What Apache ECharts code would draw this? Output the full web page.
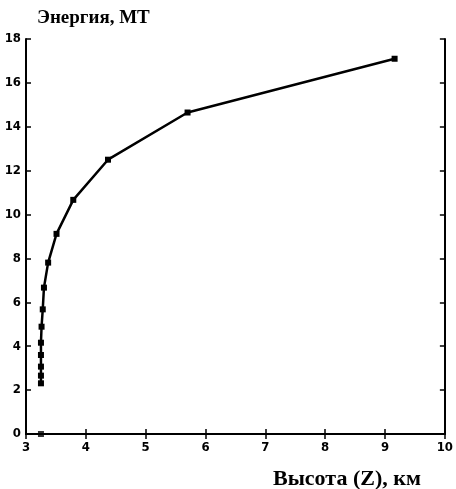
<!DOCTYPE html>
<html>
<head>
<meta charset="utf-8">
<script src="https://cdn.jsdelivr.net/npm/echarts@6/dist/echarts.min.js"></script>
<style>
  html, body { margin: 0; padding: 0; background: #fff; }
  #chart { width: 456px; height: 489px; }
</style>
</head>
<body>
<div id="chart"></div>
<script>
// высота (км) и энергия (МТ)
const heightKm = [9.16, 5.70, 4.37, 3.79, 3.51, 3.37, 3.30, 3.28, 3.26, 3.25, 3.25, 3.25, 3.25, 3.25]
const energyMt = [17.1, 14.65, 12.5, 10.67, 9.12, 7.81, 6.67, 5.68, 4.89, 4.16, 3.6, 3.07, 2.66, 2.31]
// отдельная точка на нуле
const zeroPoint = [[3.25, 0]]

const xTicks = [3, 4, 5, 6, 7, 8, 9, 10]
const yTicks = [0, 2, 4, 6, 8, 10, 12, 14, 16, 18]

const lineData = heightKm.map((h, i) => [h, energyMt[i]])

const chart = echarts.init(document.getElementById('chart'))

const tickFont = {
  color: '#000',
  fontFamily: 'DejaVu Sans Condensed',
  fontWeight: 'bold',
  fontSize: 13
}

chart.setOption({
  animation: false,
  backgroundColor: '#fff',
  title: [
    {
      text: 'Энергия, МТ',
      left: 32,
      top: 4,
      textStyle: { fontFamily: 'Liberation Serif', fontWeight: 'bold', fontSize: 19, color: '#000' }
    },
    {
      text: 'Высота (Z), км',
      left: 268,
      top: 463,
      textStyle: { fontFamily: 'Liberation Serif', fontWeight: 'bold', fontSize: 22, color: '#000' }
    }
  ],
  grid: {
    left: 26,
    right: 9,
    top: 39,
    bottom: 55
  },
  xAxis: [
    {
      type: 'value',
      min: 3,
      max: 10,
      interval: 1,
      axisLine: { lineStyle: { color: '#000', width: 2 } },
      axisTick: { inside: true, length: 5, lineStyle: { color: '#000', width: 1.5 } },
      axisLabel: Object.assign({ margin: 7 }, tickFont),
      splitLine: { show: false }
    },
    {
      type: 'value',
      position: 'top',
      min: 3,
      max: 10,
      interval: 1,
      axisLine: { lineStyle: { color: '#000', width: 2 } },
      axisTick: { inside: true, length: 5, lineStyle: { color: '#000', width: 1.5 } },
      axisLabel: { show: false },
      splitLine: { show: false }
    }
  ],
  yAxis: [
    {
      type: 'value',
      min: 0,
      max: 18,
      interval: 2,
      axisLine: { show: true, lineStyle: { color: '#000', width: 2 } },
      axisTick: { show: true, inside: true, length: 5, lineStyle: { color: '#000', width: 1.5 } },
      axisLabel: Object.assign({ margin: 5 }, tickFont),
      splitLine: { show: false }
    },
    {
      type: 'value',
      position: 'right',
      min: 0,
      max: 18,
      interval: 2,
      axisLine: { show: true, lineStyle: { color: '#000', width: 2 } },
      axisTick: { show: true, inside: true, length: 5, lineStyle: { color: '#000', width: 1.5 } },
      axisLabel: { show: false },
      splitLine: { show: false }
    }
  ],
  series: [
    {
      type: 'line',
      data: lineData,
      symbol: 'rect',
      symbolSize: 6,
      itemStyle: { color: '#000' },
      lineStyle: { color: '#000', width: 2.5 }
    },
    {
      type: 'scatter',
      data: zeroPoint,
      symbol: 'rect',
      symbolSize: 6,
      itemStyle: { color: '#000' }
    }
  ]
})
</script>
</body>
</html>
